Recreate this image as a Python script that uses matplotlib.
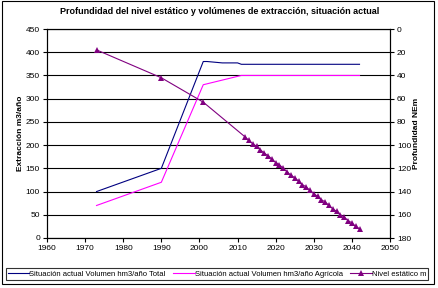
import matplotlib
matplotlib.use("Agg")
import matplotlib.pyplot as plt
from matplotlib.patches import Rectangle

plt.rcParams['font.family'] = ['Liberation Sans', 'DejaVu Sans']

years_total = [1973, 1990, 2001, 2002, 2006, 2010, 2011, 2042]
vol_total = [100, 150, 380, 380, 377, 377, 374, 374]

years_agri = [1973, 1990, 2001, 2011, 2042]
vol_agri = [70, 120, 330, 350, 350]

years_nivel = [1973, 1990, 2001, 2012, 2013, 2014, 2015, 2016, 2017, 2018, 2019,
               2020, 2021, 2022, 2023, 2024, 2025, 2026, 2027, 2028, 2029, 2030,
               2031, 2032, 2033, 2034, 2035, 2036, 2037, 2038, 2039, 2040, 2041, 2042]
nivel = [18, 42, 63, 93, 96, 99, 101, 104, 107, 109, 112,
         115, 117, 120, 123, 126, 128, 131, 134, 136, 139, 142,
         144, 147, 149, 152, 155, 157, 160, 162, 165, 167, 170, 172]

labels = ["Situación actual Volumen hm3/año Total",
          "Situación actual Volumen hm3/año Agrícola",
          "Nivel estático m"]

W, H = 438, 288
fig = plt.figure(figsize=(W / 100, H / 100), dpi=100)
ax = fig.add_axes([47 / W, 1 - 238 / H, (390 - 47) / W, (238 - 29) / H])
ax2 = ax.twinx()

fs = 6
l1, = ax.plot(years_total, vol_total, color='#000080', lw=0.8)
l2, = ax.plot(years_agri, vol_agri, color='#FF00FF', lw=0.8)
l3, = ax2.plot(years_nivel, nivel, color='#800080', lw=0.8, marker='^', ms=4.2,
               markeredgewidth=0)

ax.set_xlim(1960, 2050)
ax.set_ylim(0, 450)
ax.set_xticks(range(1960, 2051, 10))
ax.set_yticks(range(0, 451, 50))
ax2.set_ylim(180, 0)
ax2.set_yticks(range(0, 181, 20))

ax.yaxis.grid(True, color='black', lw=0.8)
ax.set_axisbelow(True)
for a in (ax, ax2):
    for s in a.spines.values():
        s.set_color('black')
        s.set_linewidth(0.8)
ax.tick_params(axis='both', labelsize=fs, length=3, width=0.8, pad=2)
ax2.tick_params(axis='y', labelsize=fs, length=3, width=0.8, pad=2)

ax.set_ylabel("Extracción m3/año", fontsize=fs, fontweight='bold', labelpad=1)
ax2.set_ylabel("Profundidad NEm", fontsize=fs, fontweight='bold', labelpad=1)
fig.text(220 / W, 1 - 12 / H, "Profundidad del nivel estático y volúmenes de extracción, situación actual",
         ha='center', va='center', fontsize=6.5, fontweight='bold')

leg = fig.legend([l1, l2, l3], labels, loc='center', ncol=3,
                 bbox_to_anchor=(217 / W, 1 - 274 / H), fontsize=5.5,
                 frameon=True, fancybox=False, edgecolor='black',
                 handlelength=2.8, handletextpad=0.0, columnspacing=1.0,
                 borderpad=0.3, borderaxespad=0)
leg.get_frame().set_linewidth(0.8)

fig.patches.append(Rectangle((2 / W, 1 - 284 / H), 432 / W, 283 / H,
                             transform=fig.transFigure, fill=False,
                             edgecolor='black', lw=0.8))

fig.savefig("out.png", dpi=100)
